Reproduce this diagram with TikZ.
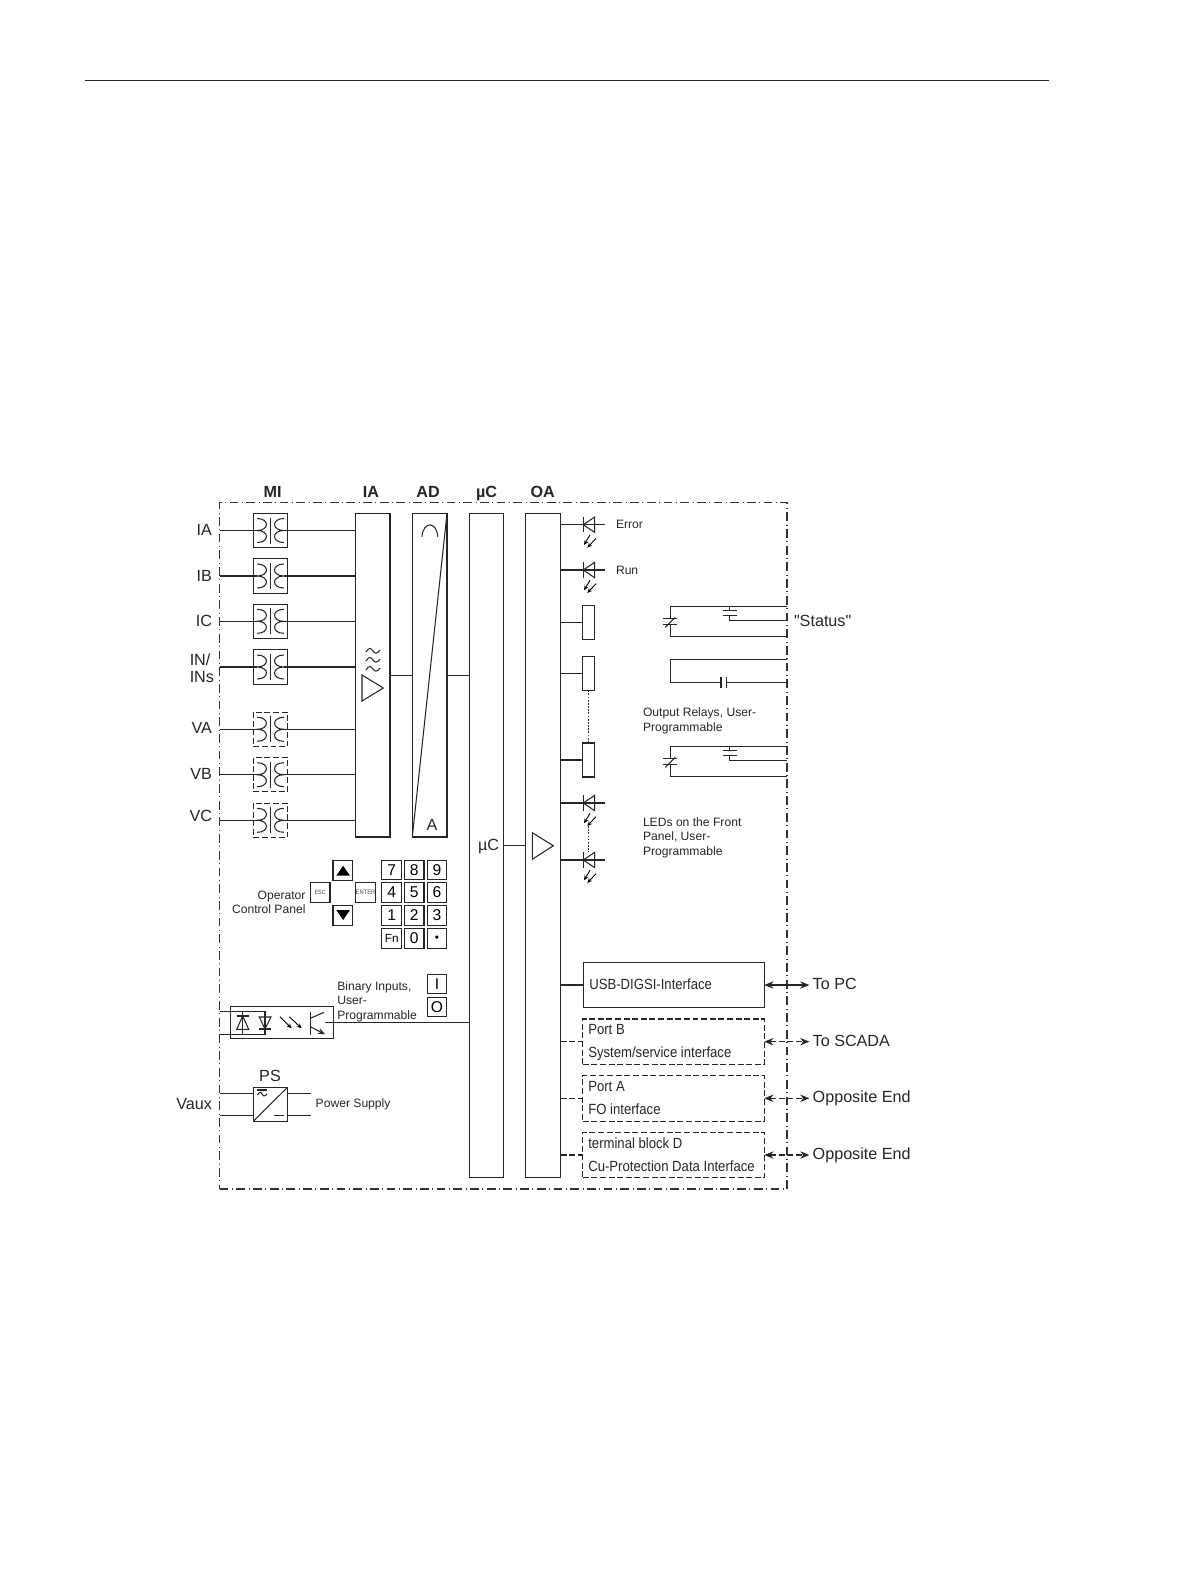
\documentclass[tikz,border=0pt]{standalone}
\usepackage{fontspec}
\setmainfont{Liberation Sans}
\newfontfamily\narrowfont[FakeStretch=0.89]{Liberation Sans}
\newfontfamily\quotefont{Liberation Sans}
\usepackage{tikz}
\usetikzlibrary{positioning,arrows.meta}

\tikzset{
  wire/.style={line width=0.6pt,draw=black!85},
  dashwire/.style={wire,dash pattern=on 3.4pt off 1.5pt},
  blockbox/.style 2 args={wire,inner sep=0pt,outer sep=0pt,minimum width=#1*0.02cm,minimum height=#2*0.02cm},
  framebox/.style 2 args={blockbox={#1}{#2},line width=0.6pt,draw=black!80,dash pattern=on 5pt off 2pt on 0.5pt off 2pt},
  dashbox/.style 2 args={blockbox={#1}{#2},dash pattern=on 3.4pt off 1.5pt},
  keybox/.style={blockbox={19.6}{19.6},font=\fontsize{8.9}{10}\selectfont},
  biglabel/.style={inner sep=0pt,outer sep=0pt,text=black!85,align=left,font=\fontsize{9.2}{9.5}\selectfont},
  headlabel/.style={biglabel,font=\fontsize{9.2}{10}\selectfont\bfseries},
  smalllabel/.style={inner sep=0pt,outer sep=0pt,text=black!85,align=left,font=\fontsize{6.9}{8.2}\selectfont},
  portlabel/.style={inner sep=0pt,outer sep=0pt,text=black!85,anchor=west,font=\fontsize{8.4}{10}\narrowfont},
  duplex/.style={{Stealth[length=5.2pt,width=4.2pt]}-{Stealth[length=5.2pt,width=4.2pt]},shorten >=1.9pt},
  ledray/.style={line width=0.5pt,-{Stealth[length=2.8pt,width=2.4pt]}},
  dotwire/.style={line width=0.6pt,draw=black!80,dash pattern=on 1pt off 0.8pt},
  xfmr/.pic={
    \draw[wire] (-13.3,-12) .. controls (-1,-12) and (-1,0) .. (-13.3,0)
      .. controls (-1,0) and (-1,12) .. (-13.3,12);
    \draw[wire] (13.3,-12) .. controls (1,-12) and (1,0) .. (13.3,0)
      .. controls (1,0) and (1,12) .. (13.3,12);
    \draw[wire] (0,-13) -- (0,13);
    \draw[wire] (-17.2,0) -- (-13.3,0);
    \draw[wire] (13.3,0) -- (17.2,0);
  },
  led/.pic={
    \draw[wire] (0,-7.7) -- (0,7.7);
    \draw[wire] (0,0) -- (11.4,-7.7) -- (11.4,7.7) -- cycle;
    \draw[ledray] (6.7,10.3) -- (0.7,20.3);
    \draw[ledray] (12.7,13.6) -- (4,23);
  },
  relaycct/.pic={
    \draw[wire] (116.7,0) -- (0,0) -- (0,12);
    \draw[wire] (0,18.4) -- (0,30.4) -- (116.7,30.4);
    \draw[wire] (-7,12.4) -- (7,12.4);
    \draw[wire] (-7,18.4) -- (7,18.4);
    \draw[wire] (-5,21) -- (5,11);
    \draw[wire] (59.4,0) -- (59.4,4.4);
    \draw[wire] (52.7,4.4) -- (66.4,4.4);
    \draw[wire] (52.7,9.4) -- (66.4,9.4);
    \draw[wire] (59.4,9.4) -- (59.4,14) -- (116.7,14);
  },
  tilde/.pic={
    \draw[wire] (-7,1) .. controls (-4,-4) and (-2,-3) .. (0,0) .. controls (2,3) and (4,3) .. (7,-1);
  },
}

\begin{document}
\begin{tikzpicture}[x=0.02cm,y=-0.02cm]
  \useasboundingbox (0,0) rectangle (1191,1587);
  \draw[wire] (85,80.5) -- (1049,80.5);
  \node[framebox={567.3}{686.7}] (frame) at (503.35,845.65) {};

  % column heads
  \node[headlabel] (headMI) at (272.7,491.7) {MI};
  \node[headlabel] (headIA) at (371,491.7) {IA};
  \node[headlabel] (headAD) at (428,491.7) {AD};
  \node[headlabel] (headUC) at (486.5,493.7) {µC};
  \node[headlabel] (headOA) at (542.7,491.7) {OA};

  % main blocks
  \node[blockbox={34.3}{323.7}] (ia) at (372.85,675.15) {};
  \node[blockbox={34.7}{323.7}] (ad) at (429.65,675.15) {};
  \node[blockbox={34.4}{664.4}] (uc) at (486.5,845.5) {};
  \node[blockbox={35}{664.4}] (oa) at (543.2,845.5) {};
  \node[biglabel] (ucText) at (488.5,847) {µC};
  \node[biglabel] (adA) at (432,825) {A};
  \draw[wire] (ad.north east) -- (ad.south west);
  \draw[wire] (422,536.7) .. controls (423,521) and (437,521) .. (437.7,536.7);
  \draw[wire] (362,675) -- (383.3,688) -- (362,701) -- cycle;
  \pic at (373,651) {tilde};
  \pic at (373,660) {tilde};
  \pic at (373,669) {tilde};
  \draw[wire] (532.3,832.7) -- (553.3,845.7) -- (532.3,859.3) -- cycle;
  \draw[wire] (ia.east |- 0,675.3) -- (ad.west |- 0,675.3);
  \draw[wire] (ad.east |- 0,675.3) -- (uc.west |- 0,675.3);
  \draw[wire] (uc.east |- 0,845.7) -- (oa.west |- 0,845.7);

  % measuring inputs
  \node[blockbox={34.4}{34.4}] (miA) at (270.5,530.5) {};
  \node[blockbox={34.4}{34.4}] (miB) at (270.5,576) {};
  \node[blockbox={34.4}{34.4}] (miC) at (270.5,621.3) {};
  \node[blockbox={34.4}{34.4}] (miN) at (270.5,667) {};
  \node[dashbox={34.4}{34.4}] (miVA) at (270.5,729.3) {};
  \node[dashbox={34.4}{34.4}] (miVB) at (270.5,774.7) {};
  \node[dashbox={34.4}{34.4}] (miVC) at (270.5,820.3) {};
  \pic at (miA) {xfmr};
  \pic at (miB) {xfmr};
  \pic at (miC) {xfmr};
  \pic at (miN) {xfmr};
  \pic at (miVA) {xfmr};
  \pic at (miVB) {xfmr};
  \pic at (miVC) {xfmr};
  \draw[wire] (miA.west -| frame.west) -- (miA.west) (miA.east) -- (miA.east -| ia.west);
  \draw[wire] (miB.west -| frame.west) -- (miB.west) (miB.east) -- (miB.east -| ia.west);
  \draw[wire] (miC.west -| frame.west) -- (miC.west) (miC.east) -- (miC.east -| ia.west);
  \draw[wire] (miN.west -| frame.west) -- (miN.west) (miN.east) -- (miN.east -| ia.west);
  \draw[wire] (miVA.west -| frame.west) -- (miVA.west) (miVA.east) -- (miVA.east -| ia.west);
  \draw[wire] (miVB.west -| frame.west) -- (miVB.west) (miVB.east) -- (miVB.east -| ia.west);
  \draw[wire] (miVC.west -| frame.west) -- (miVC.west) (miVC.east) -- (miVC.east -| ia.west);
  \node[biglabel,anchor=east] (lblIA) at (212,530) {IA};
  \node[biglabel,anchor=east] (lblIB) at (212,575.5) {IB};
  \node[biglabel,anchor=east] (lblIC) at (212,621) {IC};
  \node[biglabel,anchor=east] (lblIN) at (214,668) {IN/\\INs};
  \node[biglabel,anchor=east] (lblVA) at (212,728) {VA};
  \node[biglabel,anchor=east] (lblVB) at (212,774) {VB};
  \node[biglabel,anchor=east] (lblVC) at (212,815.7) {VC};

  % operator panel
  \node[smalllabel,anchor=east,align=right] (panelText) at (305.5,902.5) {Operator\\Control Panel};
  \node[keybox] (btnUp) at (342.8,870.3) {};
  \node[keybox] (btnDown) at (342.8,915.5) {};
  \fill[black] (336.3,875.7) -- (343.1,865.7) -- (350,875.7) -- cycle;
  \fill[black] (336.3,910) -- (343.1,920) -- (350,910) -- cycle;
  \node[keybox,font=\fontsize{3.5}{4}\narrowfont,text=black!70] (btnEsc) at (320.2,892.4) {ESC};
  \node[keybox,font=\fontsize{3.7}{4}\narrowfont,text=black!70] (btnEnter) at (365.5,892.4) {ENTER};
  \node[keybox] (key7) at (391.7,870) {7};
  \node[keybox] (key8) at (414.2,870) {8};
  \node[keybox] (key9) at (436.9,870) {9};
  \node[keybox] (key4) at (391.7,892.5) {4};
  \node[keybox] (key5) at (414.2,892.5) {5};
  \node[keybox] (key6) at (436.9,892.5) {6};
  \node[keybox] (key1) at (391.7,915.5) {1};
  \node[keybox] (key2) at (414.2,915.5) {2};
  \node[keybox] (key3) at (436.9,915.5) {3};
  \node[keybox,font=\fontsize{6.7}{8}\selectfont] (keyFn) at (391.7,938.3) {Fn};
  \node[keybox] (key0) at (414.2,938.3) {0};
  \node[keybox,font=\fontsize{6.7}{8}\selectfont] (keyDot) at (436.9,938.3) {•};

  % binary inputs
  \node[smalllabel,anchor=west] (binText) at (337.3,1001.7) {Binary Inputs,\\User-\\Programmable};
  \node[keybox] (keyI) at (437,984) {I};
  \node[keybox] (keyO) at (437,1007) {O};
  \node[blockbox={102.6}{32.4}] (opto) at (282,1022.5) {};
  \coordinate (optoOut) at (325,1022.7);
  \draw[wire] (optoOut) -- (optoOut -| uc.west);
  \draw[wire] (frame.west |- 0,1011.3) -- (265,1011.3) -- (265,1034.3) -- (frame.west |- 0,1034.3);
  \draw[wire] (242.7,1011.3) -- (242.7,1034.3);
  \draw[wire] (236.7,1016) -- (248.7,1016);
  \draw[wire] (242.7,1016) -- (236.7,1029.3) -- (248.7,1029.3) -- cycle;
  \draw[wire] (259.3,1029) -- (271,1029);
  \draw[wire] (259.3,1017) -- (271,1017) -- (265,1029) -- cycle;
  \draw[ledray] (280,1016.7) -- (291.7,1028.3);
  \draw[ledray] (289.3,1016.7) -- (301.7,1028.3);
  \draw[wire] (310.3,1011.7) -- (310.3,1034.7);
  \draw[wire] (310.3,1018.3) -- (324,1012.3);
  \draw[wire,-{Stealth[length=4pt,width=3.4pt]}] (310.3,1026.7) -- (325,1034.3);

  % power supply
  \node[biglabel] (psHead) at (270,1076) {PS};
  \node[blockbox={34.4}{34.3}] (ps) at (270.5,1104.2) {};
  \draw[wire] (ps.south west) -- (ps.north east);
  \draw[wire] (257.3,1090) -- (266.7,1090);
  \draw[wire] (257.5,1095) .. controls (260,1091) and (262,1092) .. (262,1094) .. controls (262,1096) and (265,1097) .. (267,1094);
  \draw[wire] (274.3,1115.7) -- (284.3,1115.7);
  \coordinate (psOutA) at (311,1093.3);
  \coordinate (psOutB) at (311,1115.7);
  \draw[wire] (frame.west |- psOutA) -- (psOutA -| ps.west) (psOutA -| ps.east) -- (psOutA);
  \draw[wire] (frame.west |- psOutB) -- (psOutB -| ps.west) (psOutB -| ps.east) -- (psOutB);
  \node[biglabel,anchor=east] (lblVaux) at (212,1104) {Vaux};
  \node[smalllabel,anchor=west] (psText) at (315.7,1104) {Power Supply};

  % leds and relays
  \coordinate (ledA) at (583.3,524.7);
  \coordinate (ledB) at (583.3,570);
  \coordinate (ledC) at (583.3,803);
  \coordinate (ledD) at (583.3,860);
  \pic at (ledA) {led};
  \pic at (ledB) {led};
  \pic at (ledC) {led};
  \pic at (ledD) {led};
  \draw[wire] (ledA -| oa.east) -- ([xshift=0.44cm]ledA);
  \draw[wire] (ledB -| oa.east) -- ([xshift=0.44cm]ledB);
  \draw[wire] (ledC -| oa.east) -- ([xshift=0.44cm]ledC);
  \draw[wire] (ledD -| oa.east) -- ([xshift=0.44cm]ledD);
  \draw[dotwire] (588.7,826) -- (588.7,852);
  \node[blockbox={11.6}{34}] (coilA) at (588.5,622.3) {};
  \node[blockbox={11.6}{34}] (coilB) at (588.5,673.3) {};
  \node[blockbox={11.6}{34}] (coilC) at (588.5,760) {};
  \draw[wire] (coilA.west -| oa.east) -- (coilA.west);
  \draw[wire] (coilB.west -| oa.east) -- (coilB.west);
  \draw[wire] (coilC.west -| oa.east) -- (coilC.west);
  \draw[dotwire] (coilB.south) -- (coilC.north);
  \node[smalllabel,anchor=west] (ledErr) at (616,524.7) {Error};
  \node[smalllabel,anchor=west] (ledRun) at (616,570) {Run};
  \pic at (670.3,606.3) {relaycct};
  \pic at (670.3,746.3) {relaycct};
  \draw[wire] (787,659.3) -- (670.3,659.3) -- (670.3,682.3) -- (721,682.3);
  \draw[wire] (721,676.7) -- (721,687.7);
  \draw[wire] (726.3,676.7) -- (726.3,687.7);
  \draw[wire] (726.3,682.3) -- (787,682.3);
  \node[biglabel,anchor=west] (lblStatus) at (794,620.7) {\quotefont "Status"};
  \node[smalllabel,anchor=west] (relayText) at (643,721) {Output Relays, User-\\Programmable};
  \node[smalllabel,anchor=west] (ledText) at (643,837.7) {LEDs on the Front\\Panel, User-\\Programmable};

  % interfaces
  \node[blockbox={181}{45.4}] (usb) at (673.8,985) {};
  \node[dashbox={181.6}{45.3}] (portB) at (673.5,1041.65) {};
  \node[dashbox={181.6}{46}] (portA) at (673.5,1098.3) {};
  \node[dashbox={181.6}{45.4}] (blockD) at (673.5,1155) {};
  \node[portlabel] (usbText) at (589.3,984.7) {USB-DIGSI-Interface};
  \node[portlabel] (portBa) at (588.3,1029.5) {Port B};
  \node[portlabel] (portBb) at (588.3,1053.5) {System/service interface};
  \node[portlabel] (portAa) at (588.3,1086) {Port A};
  \node[portlabel] (portAb) at (588.3,1109.3) {FO interface};
  \node[portlabel] (blockDa) at (588.3,1143) {terminal block D};
  \node[portlabel] (blockDb) at (588.3,1166) {Cu-Protection Data Interface};
  \node[biglabel,anchor=west] (toPC) at (812.7,984) {To PC};
  \node[biglabel,anchor=west] (toSCADA) at (812.7,1041) {To SCADA};
  \node[biglabel,anchor=west] (toEndA) at (812.7,1098.5) {Opposite End};
  \node[biglabel,anchor=west] (toEndB) at (812.7,1155.5) {Opposite End};
  \draw[wire] (usb.west -| oa.east) -- (usb.west);
  \draw[dashwire] (portB.west -| oa.east) -- (portB.west);
  \draw[dashwire] (portA.west -| oa.east) -- (portA.west);
  \draw[dashwire] (blockD.west -| oa.east) -- (blockD.west);
  \draw[wire,duplex] (usb.east) -- (usb.east -| toPC.west);
  \draw[dashwire,duplex] (portB.east) -- (portB.east -| toSCADA.west);
  \draw[dashwire,duplex] (portA.east) -- (portA.east -| toEndA.west);
  \draw[dashwire,duplex] (blockD.east) -- (blockD.east -| toEndB.west);
\end{tikzpicture}
\end{document}
